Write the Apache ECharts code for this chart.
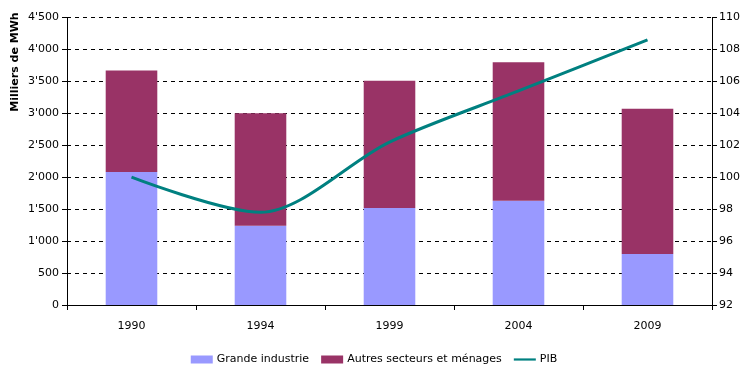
<!DOCTYPE html>
<html><head><meta charset="utf-8">
<script src="https://cdn.jsdelivr.net/npm/echarts@6/dist/echarts.min.js"></script>
<style>html,body{margin:0;padding:0;background:#fff}#c{width:748px;height:382px}</style>
</head><body><div id="c"></div>
<script>
const categories = ['1990','1994','1999','2004','2009'];
const grandeIndustrie = [2080, 1240, 1520, 1630, 800];
const autresSecteurs = [1590, 1760, 1990, 2170, 2270];
const pib = [100.0, 97.8, 102.2, 105.4, 108.6];
const leftTicks = {min:0, max:4500, interval:500};
const rightTicks = {min:92, max:110, interval:2};

const font = 'DejaVu Sans';
const chart = echarts.init(document.getElementById('c'));
chart.setOption({
  animation:false,
  backgroundColor:'#fff',
  textStyle:{fontFamily:font},
  grid:{left:67, right:36, top:17.5, bottom:77},
  graphic:[{type:'text', x:15, y:62, rotation:Math.PI/2, style:{text:'Milliers de MWh', font:'bold 11px "DejaVu Sans"', fill:'#000', align:'center', verticalAlign:'middle'}}],
  legend:{bottom:12, left:'center', itemWidth:22, itemHeight:8, itemGap:12,
    textStyle:{fontSize:11, color:'#000', fontFamily:font, padding:[0,0,0,-1]},
    data:[{name:'Grande industrie', icon:'rect'},{name:'Autres secteurs et ménages', icon:'rect'},{name:'PIB', icon:'path://M0,0 L30,0 L30,3 L0,3 Z', itemStyle:{color:'#008080'}}]},
  xAxis:{type:'category', data:categories, boundaryGap:true,
    axisLine:{lineStyle:{color:'#000', width:1}},
    axisTick:{show:true, alignWithLabel:false, length:5, lineStyle:{color:'#000'}},
    axisLabel:{color:'#000', fontSize:11, margin:16}},
  yAxis:[
    {type:'value', min:leftTicks.min, max:leftTicks.max, interval:leftTicks.interval,
     axisLine:{show:true, lineStyle:{color:'#000'}},
     axisTick:{show:true, length:5, lineStyle:{color:'#000'}},
     axisLabel:{color:'#000', fontSize:11, margin:8, formatter:v=>String(v).replace(/\B(?=(\d{3})+(?!\d))/g,"'")},
     splitLine:{show:true, lineStyle:{color:'#000', type:[4,4], width:1}}},
    {type:'value', min:rightTicks.min, max:rightTicks.max, interval:rightTicks.interval, position:'right',
     axisLine:{show:true, lineStyle:{color:'#000'}},
     axisTick:{show:true, length:5, lineStyle:{color:'#000'}},
     axisLabel:{color:'#000', fontSize:11, margin:7},
     splitLine:{show:false}}
  ],
  series:[
    {name:'Grande industrie', type:'bar', stack:'s', data:grandeIndustrie, barWidth:'40%', itemStyle:{color:'#9999FF'}},
    {name:'Autres secteurs et ménages', type:'bar', stack:'s', data:autresSecteurs, barWidth:'40%', itemStyle:{color:'#993366'}},
    {name:'PIB', type:'line', yAxisIndex:1, data:pib, smooth:0.3, symbol:'none', lineStyle:{color:'#008080', width:3}, itemStyle:{color:'#008080'}}
  ]
});
</script></body></html>
